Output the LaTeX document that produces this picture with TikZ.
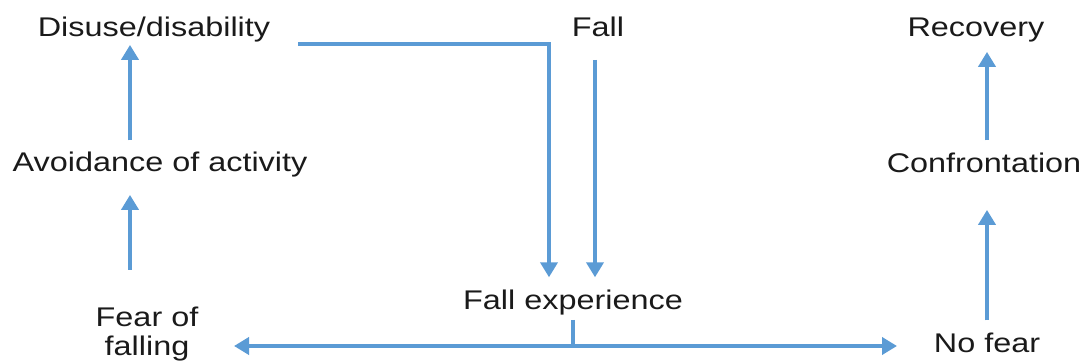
\documentclass[tikz,border=0pt]{standalone}
\usepackage{fontspec}
\setmainfont{Liberation Sans}
\usetikzlibrary{arrows.meta}
\definecolor{arrblue}{HTML}{5B9BD5}
\definecolor{txt}{HTML}{1A1A1A}
\newcommand\sx[1]{\scalebox{1.2}[1]{#1}}
\tikzset{
  lab/.style={inner sep=0pt, text=txt, font=\fontsize{27}{29}\selectfont, text height=19.5pt, text depth=5.7pt, anchor=base},
  arr/.style={draw=arrblue, line width=4pt, -{Triangle[width=17pt,length=15pt]}},
  twoarr/.style={draw=arrblue, line width=4pt, {Triangle[width=17pt,length=15pt]}-{Triangle[width=17pt,length=15pt]}},
  plain/.style={draw=arrblue, line width=4pt}
}
\begin{document}
\begin{tikzpicture}[x=1pt,y=-1pt]
\useasboundingbox (0,0) rectangle (1089,363);
% nodes
\node[lab] (dis) at (154,37) {\sx{Disuse/disability}};
\node[lab] (fall) at (598,37) {\sx{Fall}};
\node[lab] (rec) at (976,37) {\sx{Recovery}};
\node[lab] (avo) at (160,172) {\sx{Avoidance of activity}};
\node[lab] (con) at (984,173) {\sx{Confrontation}};
\node[lab] (fe) at (573,309) {\sx{Fall experience}};
\node[inner sep=0pt, text=txt, font=\fontsize{27}{29}\selectfont, align=center, anchor=north] (fof) at (147,307) {\sx{Fear of}\\\sx{falling}};
\node[lab] (nf) at (987,352) {\sx{No fear}};
% helper coordinates
\coordinate (xl) at (130,0);
\coordinate (xr) at (987,0);
\coordinate (hl) at (0,346);
\coordinate (lt) at (234,346);
\coordinate (rt) at (897,346);
% left column
\draw[arr] (fof.north -| xl) ++(0,-37) -- ([yshift=-17pt]avo.south -| xl);
\draw[arr] ([yshift=12pt]avo.north -| xl) -- ([yshift=-2pt]dis.south -| xl);
% disuse to fall experience
\draw[arr] ([xshift=28pt,yshift=-1pt]dis.south east) -| ([xshift=-24pt,yshift=12pt]fe.north);
% fall to fall experience
\draw[arr] ([xshift=-3pt,yshift=-17pt]fall.south) -- ([xshift=22pt,yshift=12pt]fe.north);
% fall experience split
\draw[plain] ([yshift=-5pt]fe.south) -- (fe.south |- hl);
\draw[twoarr] (lt) -- (rt);
% right column
\draw[arr] ([yshift=12pt]nf.north -| xr) -- ([yshift=-31pt]con.south -| xr);
\draw[arr] ([yshift=13pt]con.north -| xr) -- ([yshift=-9pt]rec.south -| xr);
\end{tikzpicture}
\end{document}
